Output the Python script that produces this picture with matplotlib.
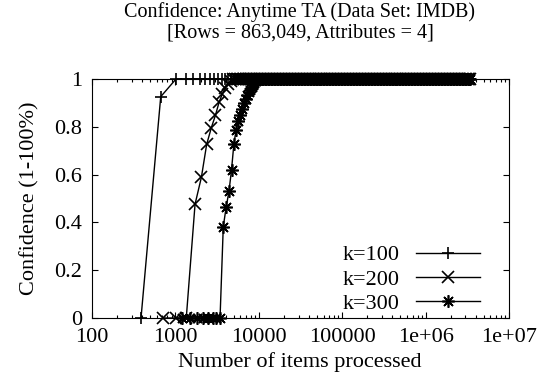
import numpy as np
import matplotlib
matplotlib.use('Agg')
import matplotlib.pyplot as plt
from matplotlib.ticker import FixedLocator, FixedFormatter, LogLocator, NullFormatter

plt.rcParams['font.family'] = ['Liberation Serif', 'DejaVu Serif']
plt.rcParams['font.size'] = 16

# points where the confidence is already 1 (dense band along the top)
tail_x = [5200, 5420, 5650, 5880, 6130, 6390, 6650, 6930, 7220, 7530, 7840, 8170,
          8510, 8870, 9240, 9630, 10030, 10450, 10890, 11350, 11830, 12320, 12840,
          13380, 13940, 14520, 15130, 15770, 16430, 17120, 17840, 18590, 19370,
          20180, 21030, 21910, 22830, 23790, 24790, 25830, 26920, 28050, 29230,
          30450, 31730, 33070, 34460, 35900, 37410, 38980, 40620, 42330, 44100,
          45960, 47890, 49900, 52000, 54180, 56460, 58830, 61300, 63880, 66560,
          69350, 72270, 75300, 78470, 81760, 85200, 88780, 92510, 96390, 100400,
          104700, 109100, 113600, 118400, 123400, 128600, 134000, 139600, 145400,
          151600, 157900, 164600, 171500, 178700, 186200, 194000, 202200, 210700,
          219500, 228700, 238300, 248400, 258800, 269600, 281000, 292800, 305100,
          317900, 331200, 345100, 359600, 374700, 390500, 406900, 424000, 441800,
          460300, 479700, 499800, 520800, 542700, 565500, 589200, 614000, 639800,
          666600, 694600, 723800, 754200, 785900, 818900, 853300, 889100, 926500,
          965400, 1006000, 1048000, 1092000, 1138000, 1186000, 1236000, 1288000,
          1342000, 1398000, 1457000, 1518000, 1582000, 1648000, 1718000, 1790000,
          1865000, 1943000, 2025000, 2110000, 2199000, 2291000, 2387000, 2487000,
          2592000, 2701000, 2814000, 2932000, 3056000, 3184000, 3318000, 3452196]

k100_x = [387, 667, 1017, 1340, 1640, 1970, 2260, 2600, 2900, 3240, 3620, 3950,
          4300, 4650, 5000]
k100_y = [0, 0.926, 1, 1, 1, 1, 1, 1, 1, 1, 1, 1, 1, 1, 1]

k200_x = [710, 1030, 1350, 1720, 2050, 2370, 2700, 3020, 3340, 3660, 3980, 4300,
          4620, 4940]
k200_y = [0, 0, 0, 0.476, 0.589, 0.726, 0.797, 0.848, 0.903, 0.938, 0.962, 0.98,
          0.992, 1]

k300_x = [1190, 1510, 1830, 2150, 2470, 2790, 3110, 3430, 3750, 4070, 4390, 4710,
          5030, 5350, 5670, 5990, 6310, 6630, 6950, 7270, 7590, 7910, 8230, 8550,
          8870, 9190, 9510, 9830]
k300_y = [0, 0, 0, 0, 0, 0, 0, 0, 0.382, 0.466, 0.53, 0.62, 0.73, 0.787, 0.826,
          0.85, 0.876, 0.9, 0.918, 0.932, 0.944, 0.955, 0.966, 0.976, 0.985, 0.992,
          0.997, 1.0]

xticks = [100, 1000, 10000, 100000, 1e6, 1e7]
xtick_labels = ['100', '1000', '10000', '100000', '1e+06', '1e+07']
yticks = [0, 0.2, 0.4, 0.6, 0.8, 1]
ytick_labels = ['0', '0.2', '0.4', '0.6', '0.8', '1']

fig = plt.figure(figsize=(5.47, 3.75), dpi=100)
ax = fig.add_axes([92/547, 1-318/375, (509-92)/547, (318-79)/375])

t1 = [x for x in tail_x if x > 5000]
t3 = [x for x in tail_x if x > 9830]
series = [
    ('k=100', k100_x + t1, k100_y + [1]*len(t1), '+', 8),
    ('k=200', k200_x + t1, k200_y + [1]*len(t1), 'x', 8),
    ('k=300', k300_x + t3, k300_y + [1]*len(t3), (8, 2, 0), 9),
]
for lab, xs, ys, m, ms in series:
    ax.plot(xs, ys, color='black', lw=1.0, marker=m, ms=ms, mew=1.2,
            mfc='none', mec='black', clip_on=False, label=lab)

ax.set_xscale('log')
ax.set_xlim(100, 1e7)
ax.set_ylim(0, 1)
ax.xaxis.set_major_locator(FixedLocator(xticks))
ax.xaxis.set_major_formatter(FixedFormatter(xtick_labels))
ax.xaxis.set_minor_locator(LogLocator(base=10, subs=np.arange(2, 10)))
ax.xaxis.set_minor_formatter(NullFormatter())
ax.yaxis.set_major_locator(FixedLocator(yticks))
ax.yaxis.set_major_formatter(FixedFormatter(ytick_labels))

ax.tick_params(which='both', direction='in', top=True, right=True, width=0.8)
ax.tick_params(which='major', length=4.5)
ax.tick_params(which='minor', length=2.5)
ax.tick_params(axis='x', which='major', pad=7)
ax.tick_params(axis='y', which='major', pad=7)
for s in ax.spines.values():
    s.set_linewidth(0.8)

fig.text(300/547, 1-12/375, 'Confidence: Anytime TA (Data Set: IMDB)',
         ha='center', va='center', fontsize=14.5)
fig.text(300/547, 1-33/375, '[Rows = 863,049, Attributes = 4]',
         ha='center', va='center', fontsize=14.5)
fig.text(300/547, 1-362/375, 'Number of items processed', ha='center', va='center')
fig.text(30/547, 1-198/375, 'Confidence (1-100%)', ha='center', va='center',
         rotation=90)

ax.legend(loc='lower right', bbox_to_anchor=(480/547, 1-314/375),
          bbox_transform=fig.transFigure, frameon=False, markerfirst=False,
          numpoints=1, handlelength=2.9, handletextpad=0.7, labelspacing=0.17,
          borderpad=0, borderaxespad=0)

fig.savefig('out.png', dpi=100)
